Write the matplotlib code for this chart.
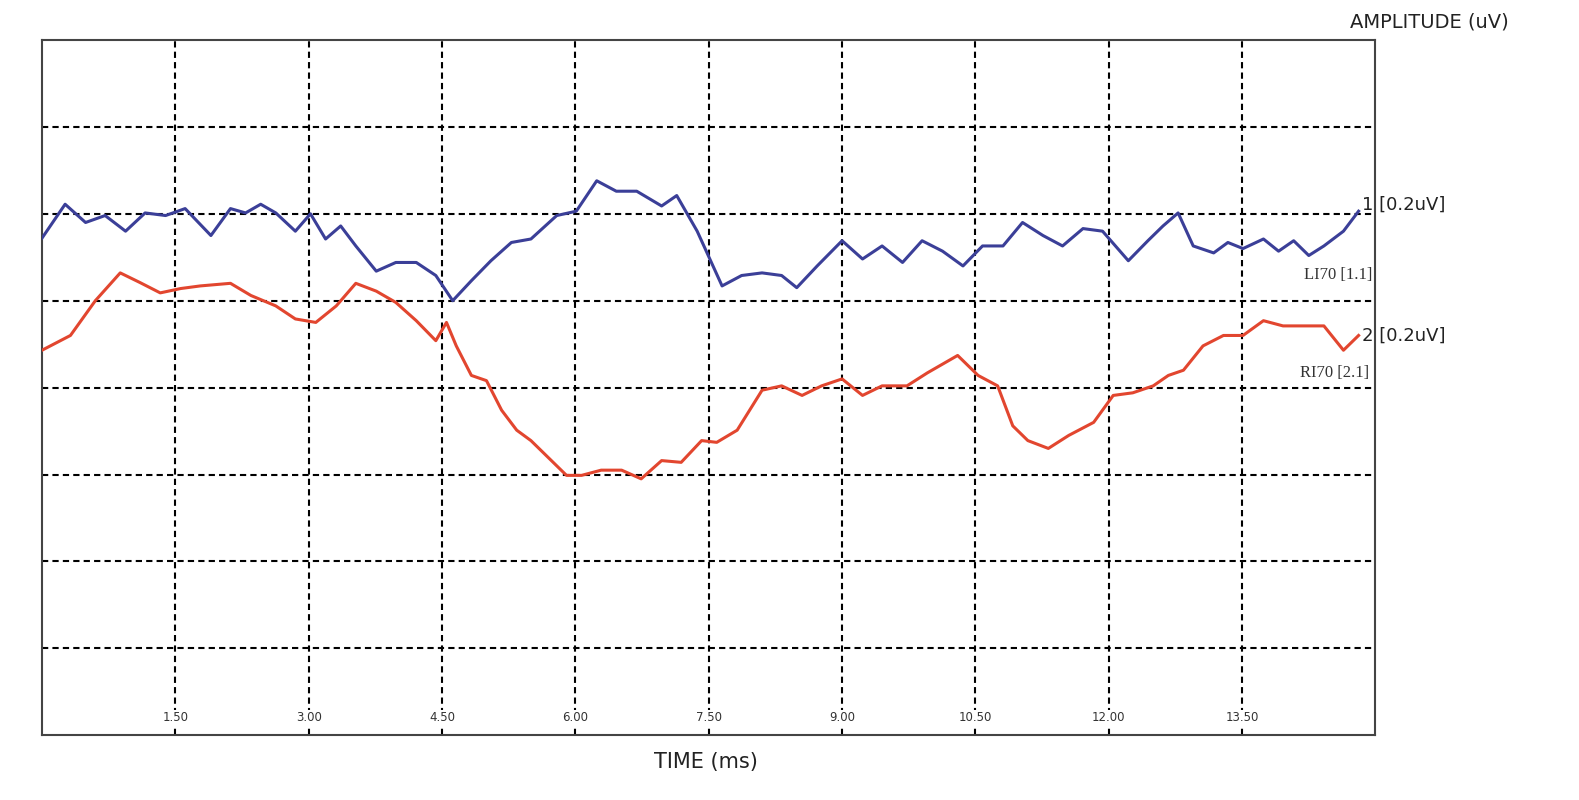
import matplotlib.pyplot as plt
import matplotlib.transforms as mtransforms

# values (time in ms, amplitude in grid divisions)
t_blue = [0.0, 0.26, 0.49, 0.71, 0.94, 1.16, 1.39, 1.61, 1.90, 2.12, 2.29, 2.46, 2.63, 2.85,
          3.02, 3.19, 3.36, 3.53, 3.76, 3.98, 4.21, 4.43, 4.62, 4.83, 5.05, 5.28, 5.50, 5.79,
          6.01, 6.24, 6.46, 6.69, 6.97, 7.14, 7.37, 7.65, 7.87, 8.10, 8.32, 8.49, 8.72, 9.00,
          9.23, 9.45, 9.68, 9.90, 10.13, 10.36, 10.58, 10.81, 11.03, 11.26, 11.48, 11.71,
          11.93, 12.22, 12.44, 12.61, 12.78, 12.95, 13.18, 13.34, 13.51, 13.74, 13.91, 14.08,
          14.25, 14.42, 14.64, 14.81]
a_blue = [5.72, 6.11, 5.90, 5.98, 5.80, 6.01, 5.98, 6.06, 5.75, 6.06, 6.01, 6.11, 6.01, 5.80,
          6.00, 5.71, 5.86, 5.63, 5.34, 5.44, 5.44, 5.29, 5.00, 5.23, 5.46, 5.67, 5.71, 5.98,
          6.03, 6.38, 6.26, 6.26, 6.09, 6.21, 5.80, 5.17, 5.29, 5.32, 5.29, 5.15, 5.40, 5.69,
          5.48, 5.63, 5.44, 5.69, 5.57, 5.40, 5.63, 5.63, 5.90, 5.75, 5.63, 5.83,
          5.80, 5.46, 5.69, 5.86, 6.01, 5.63, 5.55, 5.67, 5.60, 5.71, 5.57, 5.69,
          5.52, 5.63, 5.80, 6.03]

t_red = [0.0, 0.32, 0.60, 0.88, 1.10, 1.33, 1.56, 1.78, 2.12, 2.35, 2.63, 2.85, 3.08, 3.31,
         3.53, 3.76, 3.98, 4.21, 4.43, 4.55, 4.66, 4.83, 5.00, 5.17, 5.34, 5.50, 5.67, 5.90,
         6.07, 6.29, 6.52, 6.74, 6.97, 7.19, 7.42, 7.59, 7.82, 8.10, 8.32, 8.55, 8.77, 9.00,
         9.23, 9.45, 9.73, 9.96, 10.30, 10.53, 10.75, 10.92, 11.09, 11.32, 11.55, 11.83,
         12.05, 12.27, 12.50, 12.67, 12.84, 13.06, 13.29, 13.51, 13.74, 13.96, 14.19, 14.42,
         14.64, 14.81]
a_red = [4.43, 4.60, 5.00, 5.32, 5.21, 5.09, 5.14, 5.17, 5.20, 5.06, 4.94, 4.79, 4.75, 4.94,
         5.20, 5.11, 4.98, 4.77, 4.54, 4.75, 4.48, 4.14, 4.08, 3.74, 3.51, 3.39, 3.22, 2.99,
         2.99, 3.05, 3.05, 2.95, 3.16, 3.14, 3.39, 3.37, 3.51, 3.97, 4.02, 3.91, 4.02, 4.10,
         3.91, 4.02, 4.02, 4.17, 4.37, 4.14, 4.02, 3.56, 3.39, 3.30, 3.45, 3.60,
         3.91, 3.94, 4.02, 4.14, 4.20, 4.48, 4.60, 4.60, 4.77, 4.71, 4.71, 4.71,
         4.43, 4.60]

x_ticks = [1.5, 3.0, 4.5, 6.0, 7.5, 9.0, 10.5, 12.0, 13.5]
x_labels = ['1.50', '3.00', '4.50', '6.00', '7.50', '9.00', '10.50', '12.00', '13.50']

fig = plt.figure(figsize=(15.79, 8), dpi=100)
ax = fig.add_axes([0.0266, 0.081, 0.8445, 0.869])
ax.set_xlim(0, 15)
ax.set_ylim(0, 8)

for x in x_ticks:
    ax.axvline(x, color='black', ls=(0, (3, 2)), lw=1.5, zorder=1)
for y in range(1, 8):
    ax.axhline(y, color='black', ls=(0, (3, 2)), lw=1.5, zorder=1)

ax.plot(t_blue, a_blue, color='#3b3f98', lw=2.2, zorder=3)
ax.plot(t_red, a_red, color='#e2462f', lw=2.2, zorder=3)

ax.set_xticks([])
ax.set_yticks([])
for s in ax.spines.values():
    s.set_color('#444444')
    s.set_linewidth(1.5)

trans = mtransforms.blended_transform_factory(ax.transData, ax.transAxes)
for x, lab in zip(x_ticks, x_labels):
    ax.text(x, 0.025, lab, transform=trans, ha='center', va='center', fontsize=8.5,
            color='#333333', zorder=4, bbox=dict(fc='white', ec='none', pad=1))

ax.text(14.85, 6.1, '1 [0.2uV]', fontsize=13, color='#222222', ha='left', va='center', clip_on=False)
ax.text(14.2, 5.3, 'LI70 [1.1]', fontsize=12, family='Liberation Serif', color='#333333',
        ha='left', va='center')
ax.text(14.85, 4.6, '2 [0.2uV]', fontsize=13, color='#222222', ha='left', va='center', clip_on=False)
ax.text(14.15, 4.17, 'RI70 [2.1]', fontsize=12, family='Liberation Serif', color='#333333',
        ha='left', va='center')
fig.text(0.905, 0.972, 'AMPLITUDE (uV)', fontsize=14, color='#222222', ha='center', va='center')
fig.text(0.447, 0.048, 'TIME (ms)', fontsize=15, color='#222222', ha='center', va='center')

fig.savefig('out.png', dpi=100)
plt.close()
